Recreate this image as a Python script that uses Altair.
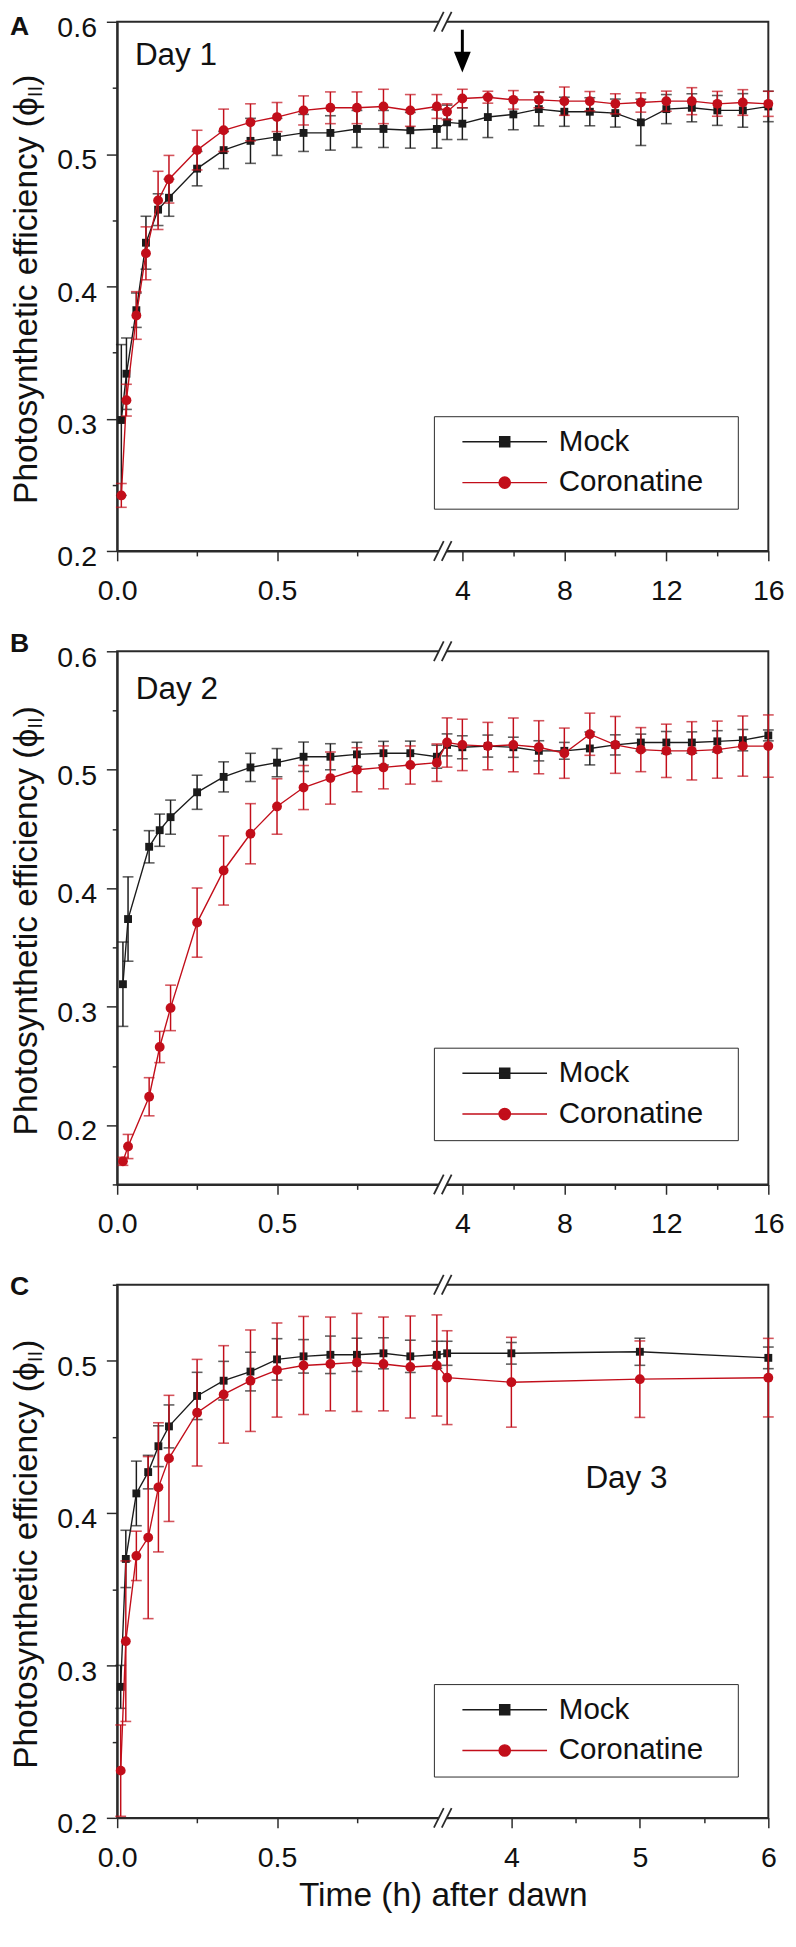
import json
import altair as alt
import pandas as pd

FONT = "Liberation Sans"
BLACK = "#1b1b1b"
RED = "#c20e1a"
FRAME = "#2a2a2a"
TXT = "#111111"
SERIES = ["Mock", "Coronatine"]
W = 662

# ---------------- Panel A (Day 1) ----------------
a_time = [0.013, 0.029, 0.06, 0.09, 0.128, 0.162, 0.25, 0.333, 0.417, 0.5, 0.583, 0.667, 0.75, 0.833, 0.917, 1.0,
          3.4, 4, 5, 6, 7, 8, 9, 10, 11, 12, 13, 14, 15, 16]
a_mock = [0.299, 0.334, 0.382, 0.433, 0.458, 0.467, 0.489, 0.503, 0.510, 0.513, 0.516, 0.516, 0.519, 0.519, 0.518, 0.519,
          0.524, 0.523, 0.528, 0.530, 0.534, 0.532, 0.532, 0.531, 0.524, 0.534, 0.535, 0.533, 0.533, 0.536]
a_mock_err = [0.057, 0.027, 0.013, 0.020, 0.012, 0.014, 0.013, 0.014, 0.017, 0.014, 0.014, 0.013, 0.014, 0.014, 0.0135, 0.0145,
              0.013, 0.012, 0.0155, 0.0116, 0.0127, 0.011, 0.0106, 0.0106, 0.0175, 0.011, 0.0106, 0.0113, 0.0127, 0.0115]
a_cor = [0.242, 0.314, 0.378, 0.425, 0.465, 0.481, 0.503, 0.518, 0.524, 0.528, 0.533, 0.535, 0.535, 0.536, 0.533, 0.536,
         0.532, 0.542, 0.543, 0.541, 0.541, 0.540, 0.540, 0.538, 0.539, 0.540, 0.540, 0.538, 0.539, 0.538]
a_cor_err = [0.009, 0.012, 0.018, 0.020, 0.022, 0.018, 0.015, 0.016, 0.014, 0.011, 0.011, 0.012, 0.012, 0.013, 0.012, 0.009,
             0.006, 0.007, 0.0045, 0.007, 0.006, 0.0107, 0.0073, 0.0076, 0.0073, 0.0076, 0.0102, 0.0094, 0.0097, 0.0095]

# ---------------- Panel B (Day 2) ----------------
b_time = [0.018, 0.034, 0.1, 0.133, 0.167, 0.25, 0.333, 0.417, 0.5, 0.583, 0.667, 0.75, 0.833, 0.917, 1.0,
          3.4, 4, 5, 6, 7, 8, 9, 10, 11, 12, 13, 14, 15, 16]
b_mock = [0.319, 0.374, 0.435, 0.449, 0.460, 0.481, 0.494, 0.502, 0.506, 0.511, 0.511, 0.513, 0.514, 0.514, 0.511,
          0.521, 0.519, 0.520, 0.519, 0.516, 0.516, 0.518, 0.521, 0.523, 0.523, 0.523, 0.524, 0.525, 0.529]
b_mock_err = [0.0356, 0.0356, 0.0136, 0.0136, 0.0144, 0.0144, 0.0127, 0.0119, 0.0119, 0.0124, 0.011, 0.0102, 0.010, 0.0102, 0.0097,
              0.0093, 0.0097, 0.0093, 0.0085, 0.0085, 0.0071, 0.0139, 0.0085, 0.0071, 0.0093, 0.009, 0.009, 0.009, 0.0046]
b_cor = [0.1695, 0.182, 0.224, 0.266, 0.299, 0.371, 0.415, 0.446, 0.469, 0.485, 0.493, 0.500, 0.502, 0.504, 0.506,
         0.523, 0.521, 0.520, 0.521, 0.519, 0.514, 0.530, 0.521, 0.517, 0.516, 0.516, 0.517, 0.520, 0.520]
b_cor_err = [0.0034, 0.0102, 0.0161, 0.0132, 0.0192, 0.0292, 0.0292, 0.0254, 0.0234, 0.0186, 0.022, 0.0186, 0.0181, 0.0161, 0.0158,
             0.0208, 0.0217, 0.020, 0.0227, 0.0224, 0.0212, 0.0178, 0.024, 0.0186, 0.0225, 0.0246, 0.0241, 0.0254, 0.0263]

# ---------------- Panel C (Day 3) ----------------
c_time = [0.011, 0.027, 0.06, 0.097, 0.129, 0.162, 0.25, 0.333, 0.417, 0.5, 0.583, 0.667, 0.75, 0.833, 0.917, 1.0,
          3.5, 4, 5, 6]
c_mock = [0.286, 0.370, 0.413, 0.427, 0.444, 0.457, 0.477, 0.487, 0.493, 0.501, 0.503, 0.504, 0.504, 0.505, 0.503, 0.504,
          0.505, 0.505, 0.506, 0.502]
c_mock_err = [0.0141, 0.0188, 0.0212, 0.011, 0.0134, 0.0141, 0.0155, 0.0127, 0.0127, 0.0136, 0.011, 0.0123, 0.0109, 0.0102, 0.0106, 0.0089,
              0.0079, 0.0071, 0.0089, 0.0071]
c_cor = [0.231, 0.316, 0.372, 0.384, 0.417, 0.436, 0.466, 0.478, 0.487, 0.494, 0.497, 0.498, 0.499, 0.498, 0.496, 0.497,
         0.489, 0.486, 0.488, 0.489]
c_cor_err = [0.030, 0.0527, 0.0162, 0.0532, 0.0424, 0.0414, 0.035, 0.032, 0.0333, 0.0309, 0.0322, 0.0308, 0.0322, 0.0308, 0.0335, 0.0332,
             0.0308, 0.0295, 0.0251, 0.0258]

# ---------------- axes ----------------
ab_xdomain = [0, 1, 3, 16]
c_xdomain = [0, 1, 3.42, 6]
ab_xticks = [0, 0.25, 0.5, 0.75, 4, 6, 8, 10, 12, 14, 16]
ab_xminor = [0.25, 0.75, 6, 10, 14]
c_xticks = [0, 0.25, 0.5, 0.75, 4, 4.5, 5, 5.5, 6]
c_xminor = [0.25, 0.75, 4.5, 5.5]
a_ydomain = [0.2, 0.6]
b_ydomain = [0.15, 0.6]
c_ydomain = [0.2, 0.55]
a_yticks = [0.2, 0.25, 0.3, 0.35, 0.4, 0.45, 0.5, 0.55, 0.6]
b_yticks = [0.15, 0.2, 0.25, 0.3, 0.35, 0.4, 0.45, 0.5, 0.55, 0.6]
c_yticks = [0.2, 0.25, 0.3, 0.35, 0.4, 0.45, 0.5, 0.55]

panel_letters = ["A", "B", "C"]
day_labels = ["Day 1", "Day 2", "Day 3"]
x_title = "Time (h) after dawn"
title_main = "Photosynthetic efficiency (\u03d5"
title_sub = "II"
title_end = ")"

# arrow in panel A (x = 4 h)
arrow_time = [4]
arrow_top = [0.594]
arrow_bottom = [0.574]
arrow_head = [0.5695]

# legend symbols (line + marker), custom paths; trailing move widens the legend box
SQ_PATH = "M-7.17,0H7.17M-0.85,-0.85H0.85V0.85H-0.85ZM37.1,0"
CI_PATH = "M-7.17,0H7.17M-0.95,0A0.95,0.95,0,1,0,0.95,0A0.95,0.95,0,1,0,-0.95,0ZM37.1,0"
TRI_PATH = "M-0.9,-1.1L0.9,-1.1L0,1.1Z"


def make_df(time, vals, errs):
    df = pd.DataFrame({"time": time, "value": vals, "err": errs})
    df["lo"] = df["value"] - df["err"]
    df["hi"] = df["value"] + df["err"]
    return df


def txt(text, x, y, **kw):
    return alt.Chart(pd.DataFrame({"t": [text]})).mark_text(font=FONT, color=TXT, **kw).encode(
        x=alt.value(x), y=alt.value(y), text="t:N")


def panel(idx, time, mock, mock_err, cor, cor_err, xdomain, xticks, xminor, ydomain, yticks, h,
          letter_y, day_xy, legend_y, xtitle=None, arrow=False):
    xscale = alt.Scale(domain=xdomain, range=[0, 325, 325, W], nice=False, zero=False)
    yscale = alt.Scale(domain=ydomain, nice=False, zero=False)
    minor_test = f"indexof({json.dumps(xminor)}, datum.value) >= 0"
    xaxis_kw = dict(
        values=xticks,
        labelExpr=f"{minor_test} ? '' : (datum.value < 1 ? format(datum.value, '.1f') : format(datum.value, 'd'))",
        tickSize={"condition": {"test": minor_test, "value": 5}, "value": 10},
        labelPadding=16, labelFlush=False, labelOverlap=False, grid=False,
    )
    if xtitle:
        xaxis = alt.Axis(title=xtitle, titlePadding=7, **xaxis_kw)
    else:
        xaxis = alt.Axis(title=None, **xaxis_kw)
    ytest = "round(datum.value * 20) % 2 == 1"
    yaxis = alt.Axis(
        values=yticks, title=None,
        labelExpr=f"{ytest} ? '' : format(datum.value, '.1f')",
        tickSize={"condition": {"test": ytest, "value": 5}, "value": 11},
        labelPadding=10, labelOffset=6, labelFlush=False, labelOverlap=False, grid=False,
    )

    def X(f):
        return alt.X(f"{f}:Q", scale=xscale, axis=xaxis)

    def Y(f):
        return alt.Y(f"{f}:Q", scale=yscale, axis=yaxis)

    layers = []
    for vals, errs, color, shape, size in [(mock, mock_err, BLACK, "square", 64),
                                           (cor, cor_err, RED, "circle", 100)]:
        df = make_df(time, vals, errs)
        base = alt.Chart(df)
        layers += [
            base.mark_rule(color=color, strokeWidth=1.5).encode(x=X("time"), y=Y("lo"), y2=alt.Y2("hi")),
            base.mark_tick(color=color, orient="horizontal", size=11, thickness=1.6).encode(x=X("time"), y=Y("lo")),
            base.mark_tick(color=color, orient="horizontal", size=11, thickness=1.6).encode(x=X("time"), y=Y("hi")),
            base.mark_line(color=color, strokeWidth=1.4).encode(x=X("time"), y=Y("value")),
            base.mark_point(shape=shape, filled=True, size=size, color=color, opacity=1).encode(
                x=X("time"), y=Y("value")),
        ]

    # legend (native, from an empty layer carrying the series scales)
    leg = alt.Legend(orient="none", legendX=322, legendY=legend_y, title=None, labelFont=FONT, labelFontSize=30,
                     labelColor=TXT, labelLimit=400, symbolSize=144, symbolStrokeWidth=1.5, symbolOpacity=1,
                     symbolOffset=46, labelOffset=40, padding=11, rowPadding=11.5,
                     strokeColor=FRAME, fillColor="white")
    leg_df = pd.DataFrame({"series": SERIES, "time": [-5, -5], "value": [0.3, 0.3]})
    layers.append(
        alt.Chart(leg_df).transform_filter("datum.time > -1").mark_point(filled=True).encode(
            x=X("time"), y=Y("value"),
            fill=alt.Fill("series:N", scale=alt.Scale(domain=SERIES, range=[BLACK, RED]), legend=leg),
            stroke=alt.Stroke("series:N", scale=alt.Scale(domain=SERIES, range=[BLACK, RED]), legend=leg),
            shape=alt.Shape("series:N", scale=alt.Scale(domain=SERIES, range=[SQ_PATH, CI_PATH]), legend=leg),
        )
    )

    if arrow:
        adf = pd.DataFrame({"time": arrow_time, "top": arrow_top, "bot": arrow_bottom, "head": arrow_head})
        layers.append(alt.Chart(adf).mark_rule(color="#000", strokeWidth=3).encode(
            x=X("time"), y=Y("top"), y2=alt.Y2("bot")))
        layers.append(alt.Chart(adf).mark_point(shape=TRI_PATH, filled=True, size=361, color="#000", opacity=1).encode(
            x=X("time"), y=Y("head")))

    # axis-break marks (//) at top and bottom
    bx = 331
    one = pd.DataFrame({"k": [0]})
    for yb in [0, h]:
        layers.append(alt.Chart(one).mark_rule(color="white", strokeWidth=5).encode(
            x=alt.value(bx - 4), x2=alt.value(bx + 4), y=alt.value(yb), y2=alt.value(yb)))
        for c in [bx - 4, bx + 4]:
            layers.append(alt.Chart(one).mark_rule(color=FRAME, strokeWidth=1.8).encode(
                x=alt.value(c - 5), x2=alt.value(c + 5), y=alt.value(yb + 10), y2=alt.value(yb - 10)))

    # panel letter and day label
    layers.append(txt(panel_letters[idx], -109, letter_y, align="left", baseline="middle",
                      fontSize=27, fontWeight="bold"))
    layers.append(txt(day_labels[idx], day_xy[0], day_xy[1], align="left", baseline="middle", fontSize=32))

    # y-axis title with subscript
    fs, sfs = 34, 21
    sub_w = 2 * 0.278 * sfs
    end_w = 0.333 * fs
    total_w = (11.616 + 0.66) * fs + sub_w + end_w
    center = h / 2 + 5
    P = center - total_w / 2 + end_w + sub_w
    bl = -82
    layers.append(txt(title_main, bl, P, align="right", baseline="alphabetic", angle=270, fontSize=fs))
    layers.append(txt(title_sub, bl + 6, P, align="left", baseline="alphabetic", angle=270, fontSize=sfs))
    layers.append(txt(title_end, bl, P - sub_w, align="left", baseline="alphabetic", angle=270, fontSize=fs))

    return alt.layer(*layers).properties(width=W, height=h)


pA = panel(0, a_time, a_mock, a_mock_err, a_cor, a_cor_err, ab_xdomain, ab_xticks, ab_xminor,
           a_ydomain, a_yticks, 538, 5.5, (18, 33.6), 401, arrow=True)
pB = panel(1, b_time, b_mock, b_mock_err, b_cor, b_cor_err, ab_xdomain, ab_xticks, ab_xminor,
           b_ydomain, b_yticks, 542, -7, (19, 38.6), 403)
pC = panel(2, c_time, c_mock, c_mock_err, c_cor, c_cor_err, c_xdomain, c_xticks, c_xminor,
           c_ydomain, c_yticks, 542, 2, (476, 196.5), 406, xtitle=x_title)

chart = (
    alt.vconcat(pA, pB, pC, spacing=102, bounds="flush")
    .resolve_scale(fill="independent", stroke="independent", shape="independent")
    .properties(padding={"left": 0, "top": -14, "right": 2, "bottom": 2})
    .configure(font=FONT)
    .configure_view(stroke=FRAME, strokeWidth=2)
    .configure_axis(domainColor=FRAME, domainWidth=2, tickColor=FRAME, tickWidth=1.5,
                    labelFont=FONT, labelFontSize=29, labelColor=TXT,
                    titleFont=FONT, titleFontSize=34, titleFontWeight="normal", titleColor=TXT)
)

chart.save("out.html", embed_options={"renderer": "svg", "actions": False})
